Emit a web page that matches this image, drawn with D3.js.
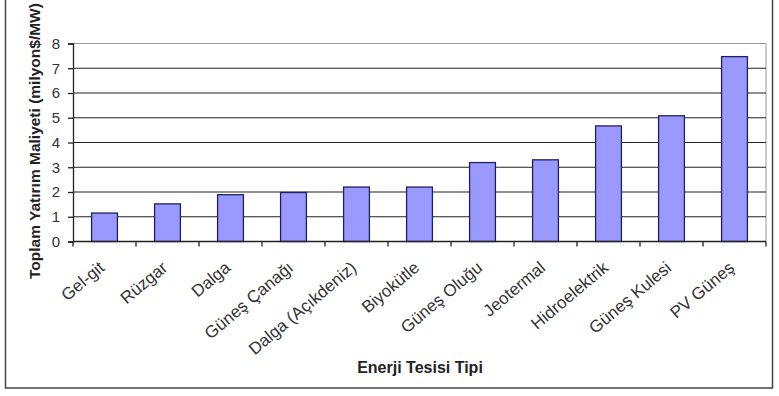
<!DOCTYPE html>
<meta charset="utf-8">
<style>
body { margin: 0; background: #fff; }
text { font-family: Arial, "Liberation Sans", sans-serif; }
</style>
<svg width="779" height="396"></svg>
<script src="https://cdn.jsdelivr.net/npm/d3@7"></script>
<script>
var categories = ["Gel-git", "Rüzgar", "Dalga", "Güneş Çanağı", "Dalga (Açıkdeniz)", "Biyokütle",
                  "Güneş Oluğu", "Jeotermal", "Hidroelektrik", "Güneş Kulesi", "PV Güneş"];
var values = [1.15, 1.52, 1.89, 1.98, 2.2, 2.2, 3.19, 3.3, 4.67, 5.08, 7.47];
var yTicks = [0, 1, 2, 3, 4, 5, 6, 7, 8];

var svg = d3.select("svg"),
    margin = {top: 43.5, left: 73, right: 13, bottom: 154.5},
    width = +svg.attr("width") - margin.left - margin.right,
    height = +svg.attr("height") - margin.top - margin.bottom;

// dış çerçeve
svg.append("rect")
    .attr("x", 5.5).attr("y", -10)
    .attr("width", 767).attr("height", 398)
    .attr("fill", "none").attr("stroke", "#444").attr("stroke-width", 1.5);

var g = svg.append("g").attr("transform", "translate(" + margin.left + "," + margin.top + ")");

var x = d3.scaleBand().domain(categories).range([0, width]).paddingInner(0.59).paddingOuter(0.295);
var y = d3.scaleLinear().domain([0, 8]).range([height, 0]);

// plot çerçevesi (üst ve sağ gri)
g.append("path")
    .attr("d", "M0,0H" + width + "V" + height)
    .attr("fill", "none").attr("stroke", "#999").attr("stroke-width", 1);

// yatay ızgara
g.selectAll(".grid")
    .data(yTicks.filter(function(d) { return d > 0 && d < 8; }))
  .enter().append("line")
    .attr("x1", 0).attr("x2", width)
    .attr("y1", function(d) { return y(d); })
    .attr("y2", function(d) { return y(d); })
    .attr("stroke", "#222").attr("stroke-width", 1.2);

g.selectAll(".bar")
    .data(values)
  .enter().append("rect")
    .attr("x", function(d, i) { return x(categories[i]); })
    .attr("y", function(d) { return y(d); })
    .attr("width", x.bandwidth())
    .attr("height", function(d) { return height - y(d); })
    .attr("fill", "#9999ff")
    .attr("stroke", "#202060").attr("stroke-width", 1.3);

// y ekseni
var yAxis = g.append("g")
    .call(d3.axisLeft(y).tickValues(yTicks).tickSize(5).tickPadding(8));
yAxis.select(".domain").attr("stroke", "#222").attr("stroke-width", 1.3);
yAxis.selectAll(".tick line").attr("stroke", "#222").attr("stroke-width", 1.3);
yAxis.selectAll("text").attr("font-size", 15).attr("fill", "#333")
    .style("font-family", "Arial, 'Liberation Sans', sans-serif");

// x ekseni: işaretler bant sınırlarında
var step = x.step();
var bounds = d3.range(categories.length + 1).map(function(i) { return i * step; });
var xAxis = g.append("g").attr("transform", "translate(0," + height + ")");
xAxis.append("line").attr("x1", 0).attr("x2", width)
    .attr("stroke", "#222").attr("stroke-width", 1.3);
xAxis.selectAll(".tk").data(bounds).enter().append("line")
    .attr("x1", function(d) { return d; }).attr("x2", function(d) { return d; })
    .attr("y1", 0).attr("y2", 5)
    .attr("stroke", "#222").attr("stroke-width", 1.3);

xAxis.selectAll(".lbl").data(categories).enter().append("text")
    .attr("transform", function(d) {
      return "translate(" + (x(d) + x.bandwidth() / 2 + 1) + ",28) rotate(-40)";
    })
    .attr("text-anchor", "end")
    .attr("font-size", 17).attr("fill", "#333")
    .text(function(d) { return d; });

svg.append("text")
    .attr("x", 420).attr("y", 373)
    .attr("text-anchor", "middle")
    .attr("font-size", 16).attr("font-weight", "bold").attr("fill", "#222")
    .text("Enerji Tesisi Tipi");

svg.append("text")
    .attr("transform", "translate(40,279) rotate(-90)")
    .attr("text-anchor", "start")
    .attr("font-size", 15.5).attr("font-weight", "bold").attr("fill", "#222")
    .text("Toplam Yatırım Maliyeti (milyon$/MW)");
</script>
